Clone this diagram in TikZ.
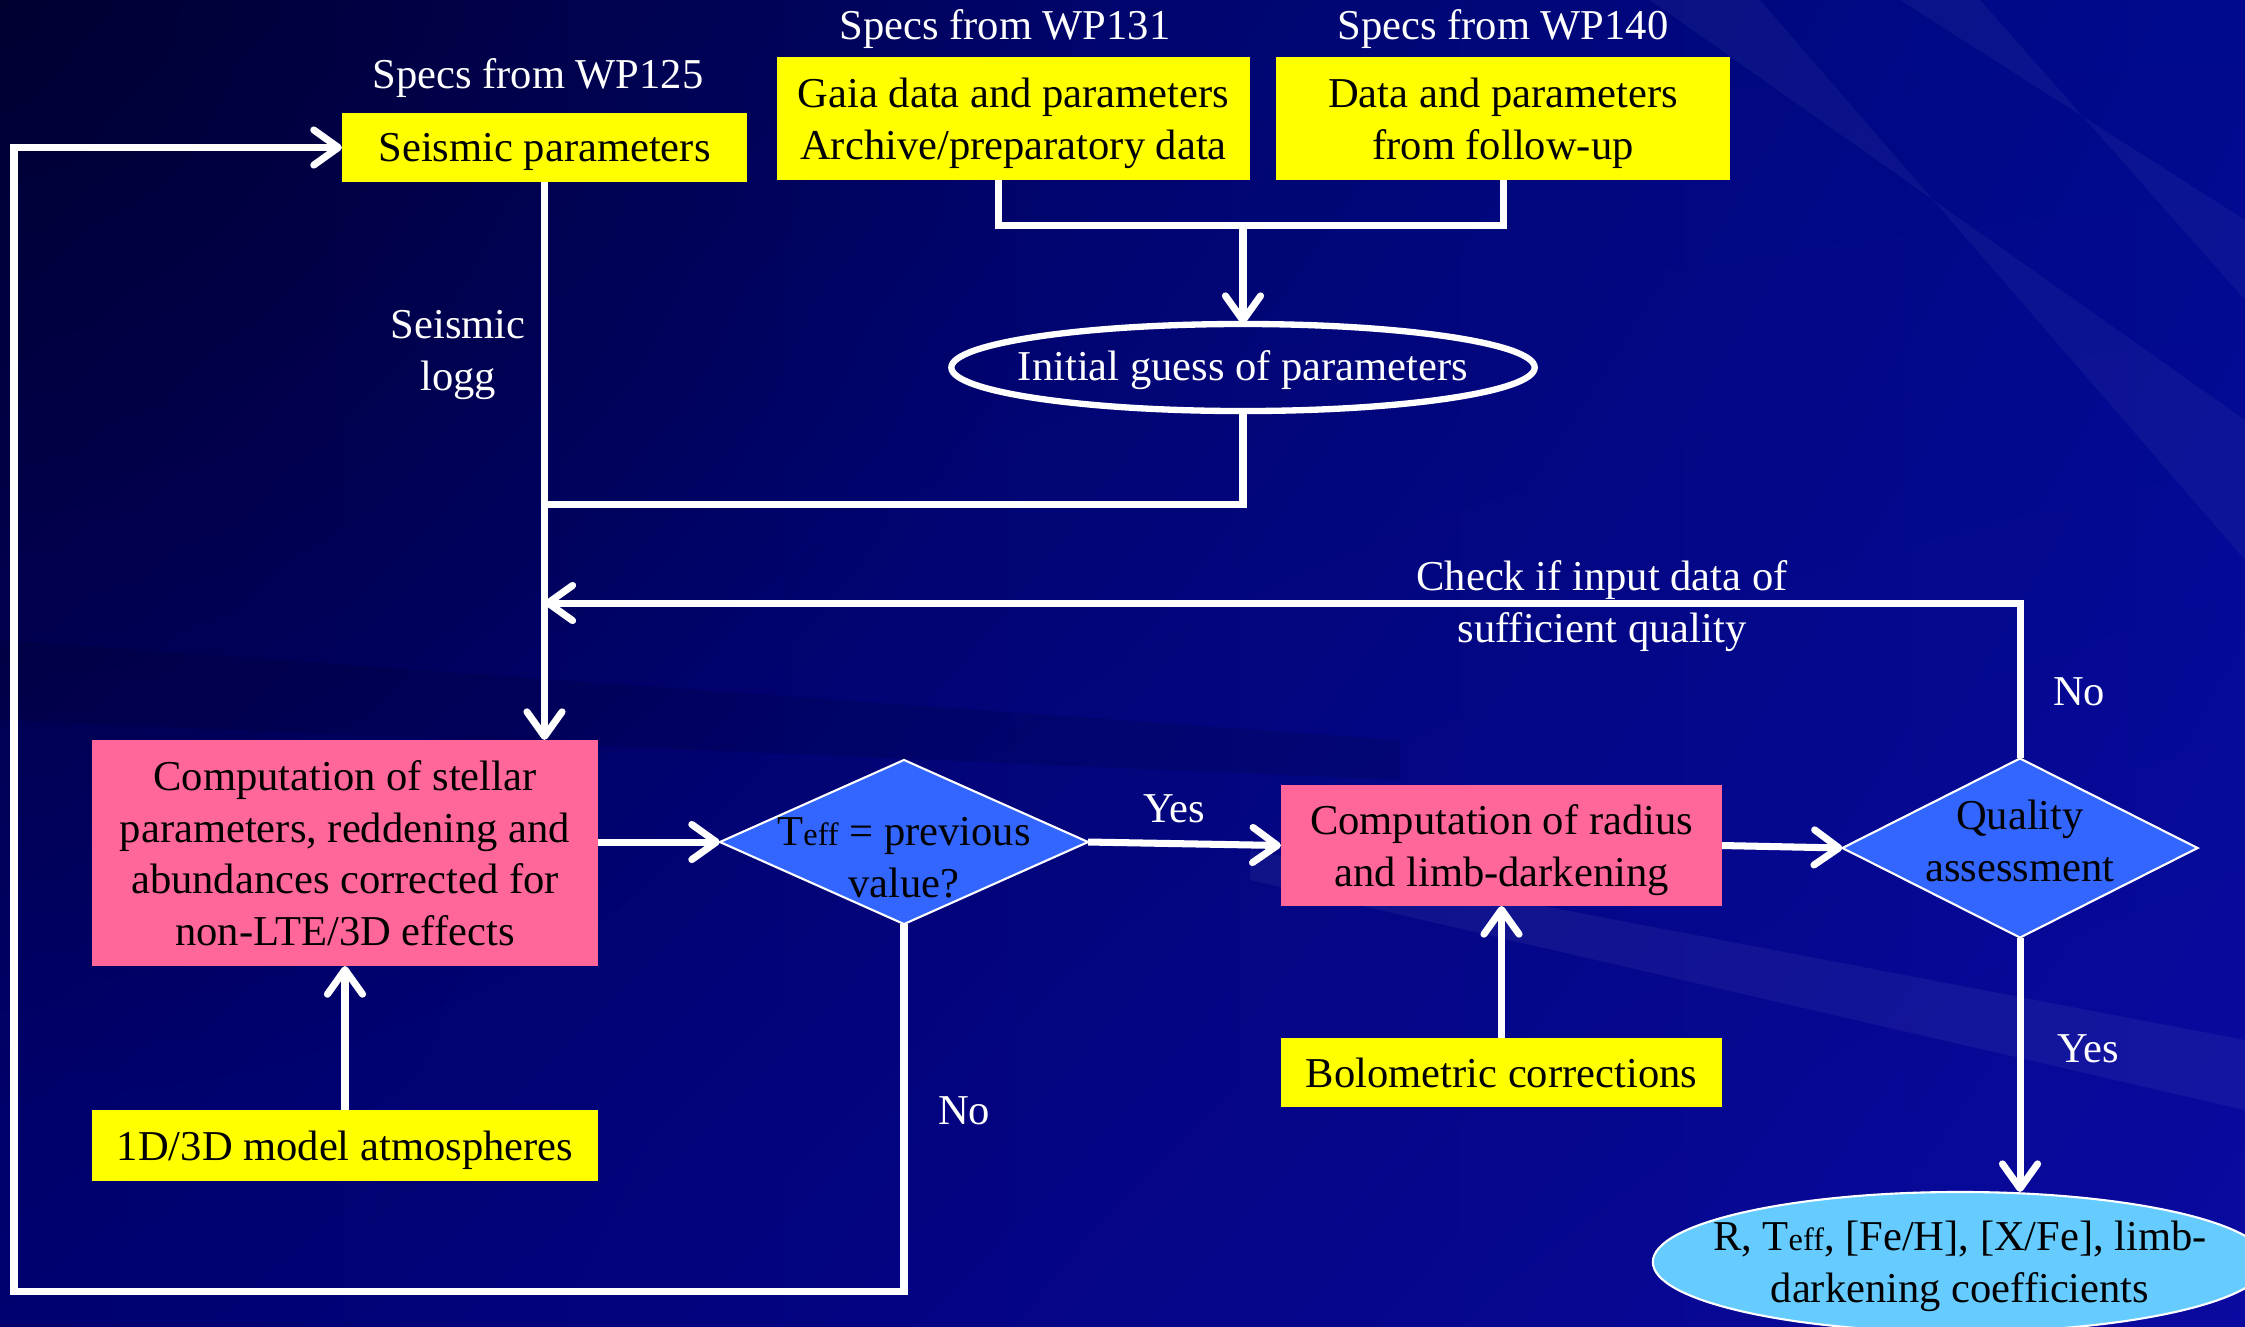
\documentclass[tikz,border=0pt]{standalone}
\usepackage{fontspec}
\setmainfont{Liberation Serif}
\usetikzlibrary{arrows.meta,shapes.geometric,shadings,fadings,calc}
\definecolor{bgUL}{HTML}{00004C}
\definecolor{bgUR}{HTML}{000A8E}
\definecolor{bgLL}{HTML}{000070}
\definecolor{bgLR}{HTML}{0A0AA0}
\definecolor{boxyellow}{HTML}{FFFF00}
\definecolor{boxpink}{HTML}{FF6699}
\definecolor{diablue}{HTML}{3366FF}
\definecolor{ovalblue}{HTML}{66CCFF}
\tikzfading[name=myfadeout, inner color=transparent!0, outer color=transparent!100]
\newcommand{\effsub}{{\fontsize{9.2}{10}\selectfont eff}}
\begin{document}
\begin{tikzpicture}[x=0.01cm,y=-0.01cm,
  font=\fontsize{12.1}{14.7}\selectfont,
  every node/.style={inner sep=0pt, outer sep=0pt},
  ybox/.style={fill=boxyellow, text=black, align=center, text depth=0pt},
  pbox/.style={fill=boxpink, text=black, align=center, text depth=0pt},
  dia/.style={diamond, fill=diablue, draw=white, line width=0.6pt},
  wlabel/.style={text=white, align=center},
  blabel/.style={text=black, align=center},
  conn/.style={draw=white, line width=2pt},
  arr/.style={draw=white, line width=2pt, -{Straight Barb[length=7pt,width=10pt,round]}},
]
% background
\useasboundingbox (0,0) rectangle (2245,1326);
\shade[upper left=bgUL, upper right=bgUR, lower left=bgLL, lower right=bgLR] (0,0) rectangle (2245,1326);
\begin{scope}
\clip (0,0) rectangle (2245,1326);
\fill[black, opacity=0.35, path fading=myfadeout] (0,0) circle (1100);
\fill[white, opacity=0.045] (1650,0) -- (1760,0) -- (2245,560) -- (2245,420) -- cycle;
\fill[white, opacity=0.045] (1900,0) -- (1980,0) -- (2245,300) -- (2245,220) -- cycle;
\fill[white, opacity=0.05] (1250,850) -- (2245,1040) -- (2245,1110) -- (1250,880) -- cycle;
\fill[black, opacity=0.10] (0,640) -- (1400,740) -- (1400,780) -- (0,720) -- cycle;
\end{scope}

% nodes
\node[ybox, minimum width=4.05cm, minimum height=0.69cm] (seis) at (544.5,147.5) {Seismic parameters};
\node[wlabel] (s125) at (538,78) {Specs from WP125};
\node[ybox, minimum width=4.73cm, minimum height=1.23cm] (gaia) at (1013.5,118.5) {Gaia data and parameters\\Archive/preparatory data};
\node[wlabel] (s131) at (1005,29) {Specs from WP131};
\node[ybox, minimum width=4.54cm, minimum height=1.23cm] (fup) at (1503,118.5) {Data and parameters\\from follow-up};
\node[wlabel] (s140) at (1503,29) {Specs from WP140};
\node[ellipse, draw=white, line width=1.8pt, minimum width=5.83cm, minimum height=0.87cm,
      label={[wlabel, yshift=-0.03cm]center:{Initial guess of parameters}}] (guess) at (1243,367.5) {};
\node[pbox, minimum width=5.06cm, minimum height=2.26cm] (comp) at (345,853)
  {Computation of stellar\\parameters, reddening and\\abundances corrected for\\non-LTE/3D effects};
\node[ybox, minimum width=5.06cm, minimum height=0.71cm] (atm) at (345,1145.5) {1D/3D model atmospheres};
\node[dia, minimum width=3.68cm, minimum height=1.64cm,
      label={[blabel, yshift=-0.16cm]center:{T\effsub{} = previous\\value?}}] (teff) at (904,842) {};
\node[pbox, minimum width=4.41cm, minimum height=1.21cm] (rad) at (1501.5,845.5) {Computation of radius\\and limb-darkening};
\node[ybox, minimum width=4.41cm, minimum height=0.69cm] (bol) at (1501.5,1072.5) {Bolometric corrections};
\node[dia, minimum width=3.55cm, minimum height=1.79cm,
      label={[blabel, yshift=0.07cm]center:{Quality\\assessment}}] (qual) at (2020,848) {};
\node[ellipse, fill=ovalblue, draw=white, line width=0.6pt, minimum width=6.14cm, minimum height=1.40cm,
      label={[blabel, yshift=-0.04cm]center:{R, T\effsub, [Fe/H], [X/Fe], limb-\\darkening coefficients}}] (res) at (1960,1262) {};

% text labels
\node[wlabel] (lseis) at (458,355) {Seismic\\logg};
\node[wlabel] (lcheck) at (1602,606) {Check if input data of\\sufficient quality};
\node[wlabel] (lno1) at (2079,692) {No};
\node[wlabel] (lyes1) at (1174,809) {Yes};
\node[wlabel] (lno2) at (964,1111) {No};
\node[wlabel] (lyes2) at (2088,1049) {Yes};

% coordinates
\coordinate (gd) at ($(gaia.south)+(-15,0)$);
\coordinate (jn) at (guess.north |- 0,225);
\coordinate (mj) at (seis.south |- 0,504);
\coordinate (fb) at (seis.south |- 0,603);
\coordinate (lc) at (14,1291);

% connectors
\draw[conn] (gd) |- (jn) -| (fup.south);
\draw[arr] (jn) -- (guess.north);
\draw[conn] (guess.south) |- (mj);
\draw[arr] (seis.south) -- (seis.south |- comp.north);
\draw[arr] (qual.north) |- (fb);
\draw[arr] (atm.north) -- (comp.south);
\draw[arr] (comp.east |- teff.west) -- (teff.west);
\draw[arr] (teff.east) -- (rad.west);
\draw[arr] (rad.east) -- (qual.west);
\draw[arr] (bol.north) -- (rad.south);
\draw[arr] (qual.south) -- (qual.south |- res.north);
\draw[arr] (teff.south) |- (lc) |- (seis.west);
\end{tikzpicture}
\end{document}
